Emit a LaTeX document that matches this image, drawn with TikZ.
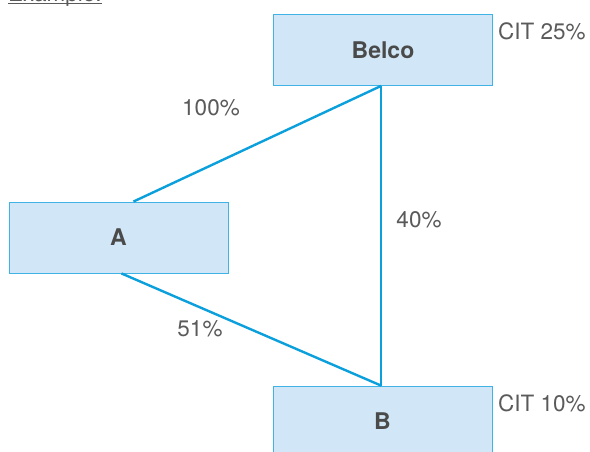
\documentclass[tikz,border=0pt]{standalone}
\usepackage{fontspec}
\setmainfont{TeX Gyre Heros}
\usetikzlibrary{calc}
\definecolor{boxfill}{HTML}{D1E6F6}
\definecolor{boxline}{HTML}{3FB2E6}
\definecolor{linkcol}{HTML}{0BA0DC}
\definecolor{labcol}{HTML}{5A5A5A}
\definecolor{namecol}{HTML}{4A4A4A}
\tikzset{
  entity/.style={draw=boxline, line width=0.9pt, fill=boxfill, minimum width=219pt, minimum height=71pt, inner sep=0pt, text=namecol, font=\fontsize{23}{27}\selectfont\bfseries},
  link/.style={draw=linkcol, line width=2.4pt},
  lab/.style={text=labcol, font=\fontsize{22.5}{26}\selectfont, inner sep=0pt}
}
\begin{document}
\begin{tikzpicture}[x=1pt,y=-1pt]
\useasboundingbox (0,0) rectangle (590,451);
\node[lab, anchor=base west] (ex) at (8,1) {Example:};
\draw[labcol, line width=0.9pt] (ex.base west) ++(0,2) coordinate (u1) -- (ex.base east |- u1);
\node[entity] (belco) at (383,50) {Belco};
\node[entity] (a) at (118.5,237.5) {A};
\node[entity] (b) at (382.5,421.5) {B};
\draw[link] ([xshift=-2pt]belco.south) -- ([xshift=15pt]a.north);
\draw[link] ([xshift=3pt]a.south) -- ([xshift=-1.5pt]b.north);
\draw[link] ([xshift=-2pt]belco.south) -- ([xshift=-1.5pt]b.north);
\node[lab] (l100) at (211,108) {100\%};
\node[lab] (l40) at (419,220) {40\%};
\node[lab] (l51) at (200,329) {51\%};
\node[lab, anchor=west] (cit1) at (498,31) {CIT 25\%};
\node[lab, anchor=west] (cit2) at (498,403) {CIT 10\%};
\end{tikzpicture}
\end{document}
